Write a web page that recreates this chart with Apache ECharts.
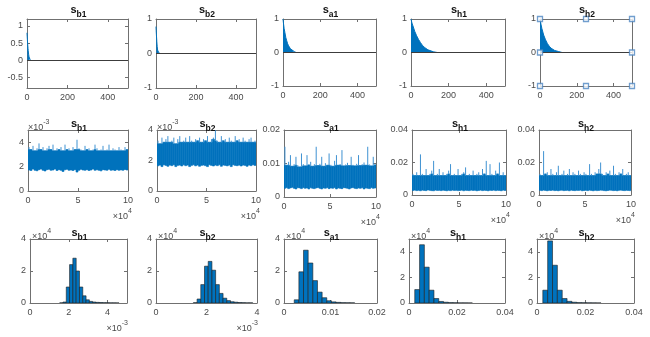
<!DOCTYPE html>
<html><head><meta charset="utf-8">
<script src="https://cdn.jsdelivr.net/npm/echarts@6/dist/echarts.min.js"></script>
<style>html,body{margin:0;padding:0;background:#fff}#c{width:650px;height:337px}</style>
</head><body><div id="c"></div>
<script>
// ---------- DATA ----------
const panelSubs = ['b1', 'b2', 'a1', 'h1', 'h2'];

// Row 1: autocorrelation (lag, value)
const acfLags_sb1 = [0, 1, 2, 3, 4, 5, 6, 8, 10, 12, 15, 20];
const acfVals_sb1 = [0.8, 0.7, 0.6, 0.5, 0.42, 0.35, 0.28, 0.18, 0.1, 0.06, 0.03, 0];
const acfLags_sb2 = [0, 1, 2, 4, 6, 8, 10, 14, 20];
const acfVals_sb2 = [0.78, 0.66, 0.55, 0.35, 0.2, 0.1, 0.05, 0.02, 0];
const acfLags_sa1 = [0, 3, 6, 10, 15, 20, 25, 30, 40, 50, 60, 70];
const acfVals_sa1 = [1, 0.85, 0.72, 0.6, 0.45, 0.35, 0.26, 0.2, 0.11, 0.06, 0.03, 0];
const acfLags_sh1 = [0, 5, 10, 20, 30, 40, 50, 60, 70, 80, 90, 100, 120, 140];
const acfVals_sh1 = [1, 0.88, 0.8, 0.63, 0.5, 0.39, 0.3, 0.22, 0.16, 0.11, 0.08, 0.05, 0.02, 0];
const acfLags_sh2 = [0, 5, 10, 20, 30, 40, 50, 60, 70, 80, 100, 120];
const acfVals_sh2 = [1, 0.85, 0.72, 0.52, 0.38, 0.27, 0.19, 0.13, 0.09, 0.06, 0.03, 0];
const selectHandles = [[0, 1], [250, 1], [500, 1], [0, 0], [500, 0], [0, -1], [250, -1], [500, -1]];

// Row 2: trace min/max per block of 2000 iterations (x in 1e4)
const traceHi_sb1 = [3.6,3.4,3.7,3.3,3.5,3.9,3.4,3.6,3.3,3.5,3.7,3.4,3.8,3.3,3.5,3.4,3.6,3.3,3.8,3.4,3.5,3.3,3.6,3.4,4.2,3.5,3.4,3.3,3.7,3.4,3.5,3.3,3.4,3.8,3.5,3.3,3.4,3.7,3.3,3.4,3.8,3.3,3.5,3.4,3.3,3.6,3.4,3.3,3.6,3.4];
const traceLo_sb1 = [1.72,1.68,1.8,1.7,1.66,1.75,1.8,1.7,1.64,1.75,1.78,1.7,1.72,1.8,1.68,1.75,1.7,1.6,1.74,1.78,1.7,1.72,1.68,1.75,1.55,1.7,1.78,1.72,1.7,1.75,1.68,1.72,1.8,1.7,1.74,1.7,1.65,1.75,1.72,1.7,1.78,1.7,1.72,1.68,1.75,1.7,1.73,1.7,1.76,1.72];
const traceHi_sb2 = [3.3,3.1,3.5,3.2,3.4,3.6,3.2,3.3,3.5,3.1,3.4,3.6,3.2,3.3,3.5,3.2,3.6,3.3,3.2,3.4,3.3,3.5,3.2,3.4,3.3,3.6,3.2,3.4,3.5,4.0,3.3,3.2,3.6,3.3,3.4,3.2,3.5,3.3,3.2,3.6,3.3,3.4,3.2,3.5,3.3,3.2,3.4,3.5,3.2,3.3];
const traceLo_sb2 = [1.65,1.7,1.6,1.72,1.68,1.62,1.7,1.66,1.72,1.6,1.68,1.7,1.64,1.72,1.66,1.7,1.6,1.68,1.72,1.65,1.7,1.62,1.68,1.7,1.66,1.6,1.72,1.68,1.64,1.7,1.66,1.72,1.62,1.7,1.68,1.65,1.7,1.6,1.72,1.68,1.66,1.7,1.64,1.7,1.68,1.62,1.7,1.66,1.72,1.68];
const traceHi_sa1 = [0.015,0.0095,0.0105,0.0125,0.0092,0.0098,0.012,0.0095,0.009,0.013,0.0098,0.0093,0.0125,0.0096,0.0105,0.0092,0.0098,0.015,0.0094,0.0099,0.012,0.0092,0.0101,0.0095,0.013,0.0096,0.0092,0.0108,0.0125,0.0095,0.0098,0.014,0.0093,0.0097,0.0102,0.0094,0.012,0.0096,0.0093,0.0099,0.0125,0.0094,0.0098,0.0103,0.0095,0.015,0.0097,0.0093,0.012,0.0096];
const traceLo_sa1 = [0.0026,0.0028,0.0025,0.0027,0.0029,0.0026,0.0024,0.0028,0.0027,0.0025,0.0028,0.0026,0.0027,0.0024,0.0028,0.0026,0.0025,0.0027,0.0028,0.0026,0.0024,0.0027,0.0026,0.0028,0.0025,0.0027,0.0026,0.0028,0.0024,0.0027,0.0026,0.0025,0.0028,0.0027,0.0026,0.0024,0.0027,0.0028,0.0026,0.0025,0.0027,0.0026,0.0028,0.0024,0.0027,0.0026,0.0025,0.0028,0.0026,0.0027];
const traceHi_sh1 = [0.013,0.012,0.014,0.012,0.025,0.013,0.012,0.016,0.012,0.013,0.015,0.021,0.012,0.013,0.016,0.012,0.014,0.012,0.013,0.015,0.019,0.012,0.013,0.012,0.016,0.012,0.013,0.014,0.017,0.012,0.013,0.012,0.015,0.012,0.013,0.014,0.012,0.016,0.013,0.021,0.012,0.019,0.013,0.012,0.015,0.013,0.020,0.012,0.014,0.012];
const traceLo_sh1 = [0.0028,0.003,0.0027,0.0029,0.0026,0.003,0.0028,0.0027,0.0031,0.0029,0.0027,0.0026,0.003,0.0028,0.0029,0.0027,0.003,0.0028,0.0026,0.0029,0.0027,0.003,0.0028,0.0029,0.0027,0.0028,0.003,0.0026,0.0029,0.0028,0.0027,0.003,0.0028,0.0029,0.0026,0.0028,0.003,0.0027,0.0029,0.0028,0.0026,0.0029,0.0028,0.003,0.0027,0.0029,0.0028,0.0026,0.003,0.0028];
const traceHi_sh2 = [0.013,0.012,0.027,0.013,0.014,0.012,0.016,0.013,0.012,0.014,0.018,0.012,0.013,0.015,0.012,0.013,0.016,0.012,0.014,0.013,0.012,0.015,0.013,0.012,0.014,0.013,0.012,0.019,0.013,0.012,0.014,0.013,0.016,0.020,0.013,0.012,0.014,0.013,0.015,0.012,0.018,0.013,0.012,0.014,0.013,0.016,0.012,0.013,0.014,0.012];
const traceLo_sh2 = [0.0029,0.0027,0.003,0.0028,0.0026,0.0029,0.0028,0.003,0.0027,0.0028,0.0026,0.0029,0.003,0.0027,0.0028,0.0029,0.0026,0.003,0.0028,0.0027,0.0029,0.0028,0.003,0.0026,0.0028,0.0029,0.0027,0.003,0.0028,0.0026,0.0029,0.0027,0.0028,0.003,0.0029,0.0027,0.0026,0.0028,0.003,0.0029,0.0027,0.0028,0.0026,0.0029,0.003,0.0028,0.0027,0.0029,0.0028,0.0027];

// Row 3: histograms (first bin edge, bin width, counts in 1e4)
const hist_sb1 = { start: 1.53, width: 0.17, counts: [0.01,0.06,1.0,2.4,2.8,2.0,1.0,0.45,0.2,0.1,0.06,0.04,0.03,0.02,0.015,0.01,0.01,0.005] };
const hist_sb2 = { start: 1.48, width: 0.147, counts: [0.02,0.25,1.15,2.3,2.6,2.05,1.15,0.6,0.3,0.15,0.08,0.05,0.03,0.02,0.01,0.01] };
const hist_sa1 = { start: 0.0022, width: 0.001, counts: [0.2,1.95,3.3,2.5,1.4,0.68,0.33,0.14,0.07,0.04,0.02,0.015,0.01] };
const hist_sh1 = { start: 0.0024, width: 0.002, counts: [1.05,4.55,2.8,1.0,0.35,0.12,0.06,0.03,0.02,0.01,0.01,0.005] };
const hist_sh2 = { start: 0.0024, width: 0.002, counts: [1.0,4.85,2.95,1.0,0.35,0.13,0.06,0.03,0.02,0.015,0.01,0.005] };

// Axis ranges and tick labels
const row1X = { min: 0, max: 500, ticks: [0, 200, 400] };
const row1Y = [
  { min: -0.8, max: 1.2, ticks: [-0.5, 0, 0.5, 1] },
  { min: -1, max: 1, ticks: [-1, 0, 1] },
  { min: -1, max: 1, ticks: [-1, 0, 1] },
  { min: -1, max: 1, ticks: [-1, 0, 1] },
  { min: -1, max: 1, ticks: [-1, 0, 1] }
];
const row2X = { min: 0, max: 10, ticks: [0, 5, 10] };
const row2Y = [
  { min: 0, max: 5, ticks: [0, 2, 4] },
  { min: 0, max: 4, ticks: [0, 2, 4] },
  { min: 0, max: 0.02, ticks: [0, 0.01, 0.02] },
  { min: 0, max: 0.04, ticks: [0, 0.02, 0.04] },
  { min: 0, max: 0.04, ticks: [0, 0.02, 0.04] }
];
const row3X = [
  { min: 0, max: 5, ticks: [0, 2, 4] },
  { min: 0, max: 4, ticks: [0, 2, 4] },
  { min: 0, max: 0.02, ticks: [0, 0.01, 0.02] },
  { min: 0, max: 0.04, ticks: [0, 0.02, 0.04] },
  { min: 0, max: 0.04, ticks: [0, 0.02, 0.04] }
];
const row3Y = [
  { min: 0, max: 4, ticks: [0, 2, 4] },
  { min: 0, max: 4, ticks: [0, 2, 4] },
  { min: 0, max: 4, ticks: [0, 2, 4] },
  { min: 0, max: 5, ticks: [0, 2, 4] },
  { min: 0, max: 5, ticks: [0, 2, 4] }
];

// ---------- LAYOUT ----------
const boxes = [
  [[27,19,128,88],[156,19,256,88],[283,19,376,86],[411,19,505,86],[540,19,632,86]],
  [[28,130,128,191],[157,130,256,191],[284,130,376,197],[412,130,506,195],[539,130,631,195]],
  [[30,239,127,303],[156,239,257,303],[284,239,377,303],[409,239,505,303],[537,239,634,303]]
];
const BLUE = '#0072BD';
const SPIKE = '#3f92d2';
const AXC = '#707070';
const TXT = '#4a4a4a';
const FONT = '"Liberation Sans", Arial, Helvetica, sans-serif';

const grids = [], xAxes = [], yAxes = [], series = [], graphics = [];

function axisPair(gi, cfg, dim) {
  const isX = dim === 'x';
  const base = {
    type: 'value', gridIndex: gi, min: cfg.min, max: cfg.max,
    splitLine: { show: false },
    axisLine: { show: true, onZero: false, lineStyle: { color: AXC, width: 1 } },
    axisTick: { show: true, inside: true, length: 3, customValues: cfg.ticks, lineStyle: { color: AXC, width: 1 } }
  };
  const main = Object.assign({}, base, {
    position: isX ? 'bottom' : 'left',
    axisLabel: { show: true, customValues: cfg.ticks, formatter: v => String(+v.toPrecision(6)),
      color: TXT, fontSize: 9, fontFamily: FONT, margin: isX ? 5 : 4 }
  });
  const mirror = Object.assign({}, base, {
    position: isX ? 'top' : 'right', axisLabel: { show: false }
  });
  return [main, mirror];
}

function addPanel(box, xc, yc) {
  const gi = grids.length;
  grids.push({ left: box[0], top: box[1], width: box[2] - box[0], height: box[3] - box[1], show: false });
  const xi = xAxes.length, yi = yAxes.length;
  xAxes.push(...axisPair(gi, xc, 'x'));
  yAxes.push(...axisPair(gi, yc, 'y'));
  return { xi, yi };
}

function titleText(box, sub, y) {
  graphics.push({
    type: 'text', x: (box[0] + box[2]) / 2 + 1, y: y, z: 100,
    style: {
      text: '{s|s}{b|' + sub + '}', align: 'center', verticalAlign: 'top',
      rich: {
        s: { fontSize: 11, fontWeight: 'bold', fill: '#111', fontFamily: FONT, lineHeight: 15, verticalAlign: 'top' },
        b: { fontSize: 8.5, fontWeight: 'bold', fill: '#111', fontFamily: FONT, lineHeight: 15, verticalAlign: 'bottom' }
      }
    }
  });
}

function expText(x, y, power, align) {
  graphics.push({
    type: 'text', x: x, y: y, z: 100,
    style: {
      text: '{m|\u00d710}{p|' + power + '}', align: align, verticalAlign: 'top',
      rich: {
        m: { fontSize: 9, fill: TXT, fontFamily: FONT, lineHeight: 13, verticalAlign: 'bottom' },
        p: { fontSize: 7, fill: TXT, fontFamily: FONT, lineHeight: 13, verticalAlign: 'top' }
      }
    }
  });
}

const acf = [
  [acfLags_sb1, acfVals_sb1], [acfLags_sb2, acfVals_sb2], [acfLags_sa1, acfVals_sa1],
  [acfLags_sh1, acfVals_sh1], [acfLags_sh2, acfVals_sh2]
];
const traces = [
  [traceLo_sb1, traceHi_sb1], [traceLo_sb2, traceHi_sb2], [traceLo_sa1, traceHi_sa1],
  [traceLo_sh1, traceHi_sh1], [traceLo_sh2, traceHi_sh2]
];
const hists = [hist_sb1, hist_sb2, hist_sa1, hist_sh1, hist_sh2];

// Row 1
for (let c = 0; c < 5; c++) {
  const box = boxes[0][c];
  const { xi, yi } = addPanel(box, row1X, row1Y[c]);
  series.push({
    type: 'line', xAxisIndex: xi, yAxisIndex: yi, symbol: 'none', silent: true,
    data: acf[c][0].map((l, i) => [l, acf[c][1][i]]),
    lineStyle: { color: BLUE, width: 1 }, areaStyle: { color: BLUE, opacity: 1 },
    markLine: { silent: true, symbol: 'none', label: { show: false },
      lineStyle: { color: '#3c3c3c', width: 1, type: 'solid' }, data: [{ yAxis: 0 }] }
  });
  if (c === 4) {
    series.push({
      type: 'scatter', xAxisIndex: xi, yAxisIndex: yi, clip: false, silent: true, z: 10,
      symbol: 'rect', symbolSize: 5, data: selectHandles,
      itemStyle: { color: '#fff', borderColor: '#4d86c2', borderWidth: 1.3 }
    });
  }
  titleText(box, panelSubs[c], box[1] - 15);
}

// Row 2
for (let c = 0; c < 5; c++) {
  const box = boxes[1][c];
  const { xi, yi } = addPanel(box, row2X, row2Y[c]);
  const lo = traces[c][0], hi = traces[c][1];
  const w = (row2X.max - row2X.min) / lo.length;
  // dense core top of each block = lowest max among the block and its neighbours
  const core = hi.map((v, i) => Math.min(v, hi[Math.max(0, i - 1)], hi[Math.min(hi.length - 1, i + 1)]));
  series.push({
    type: 'custom', xAxisIndex: xi, yAxisIndex: yi, silent: true, clip: true,
    data: lo.map((v, i) => [i * w, (i + 1) * w, v, hi[i], core[i]]),
    encode: { x: [0, 1], y: [2, 3] },
    renderItem: (p, api) => {
      const a = api.coord([api.value(0), api.value(4)]);
      const b = api.coord([api.value(1), api.value(2)]);
      const t = api.coord([(api.value(0) + api.value(1)) / 2, api.value(3)]);
      return { type: 'group', children: [
        { type: 'rect', shape: { x: a[0], y: a[1], width: b[0] - a[0], height: b[1] - a[1] },
          style: { fill: BLUE, stroke: BLUE, lineWidth: 0.6 } },
        { type: 'line', shape: { x1: t[0], y1: a[1], x2: t[0], y2: t[1] },
          style: { stroke: SPIKE, lineWidth: 1 } }
      ] };
    }
  });
  titleText(box, panelSubs[c], box[1] - 12);
  expText(box[2] + 4, box[3] + 17, '4', 'right');
  if (c < 2) expText(box[0], box[1] - 11, '-3', 'left');
}

// Row 3
for (let c = 0; c < 5; c++) {
  const box = boxes[2][c];
  const { xi, yi } = addPanel(box, row3X[c], row3Y[c]);
  const h = hists[c];
  series.push({
    type: 'custom', xAxisIndex: xi, yAxisIndex: yi, silent: true, clip: true,
    data: h.counts.map((n, i) => [h.start + i * h.width, h.start + (i + 1) * h.width, n]),
    encode: { x: [0, 1], y: 2 },
    renderItem: (p, api) => {
      const a = api.coord([api.value(0), api.value(2)]);
      const b = api.coord([api.value(1), 0]);
      return { type: 'rect', shape: { x: a[0], y: a[1], width: b[0] - a[0], height: b[1] - a[1] },
        style: { fill: BLUE, stroke: '#1f1f1f', lineWidth: 0.6 } };
    }
  });
  titleText(box, panelSubs[c], box[1] - 12);
  expText(box[0] + 2, box[1] - 11, '4', 'left');
  if (c < 2) expText(box[2] + 1, box[3] + 17, '-3', 'right');
}

const chart = echarts.init(document.getElementById('c'), null, { renderer: 'canvas' });
chart.setOption({
  animation: false,
  backgroundColor: '#fff',
  grid: grids, xAxis: xAxes, yAxis: yAxes, series: series, graphic: graphics
});
</script>
</body></html>
